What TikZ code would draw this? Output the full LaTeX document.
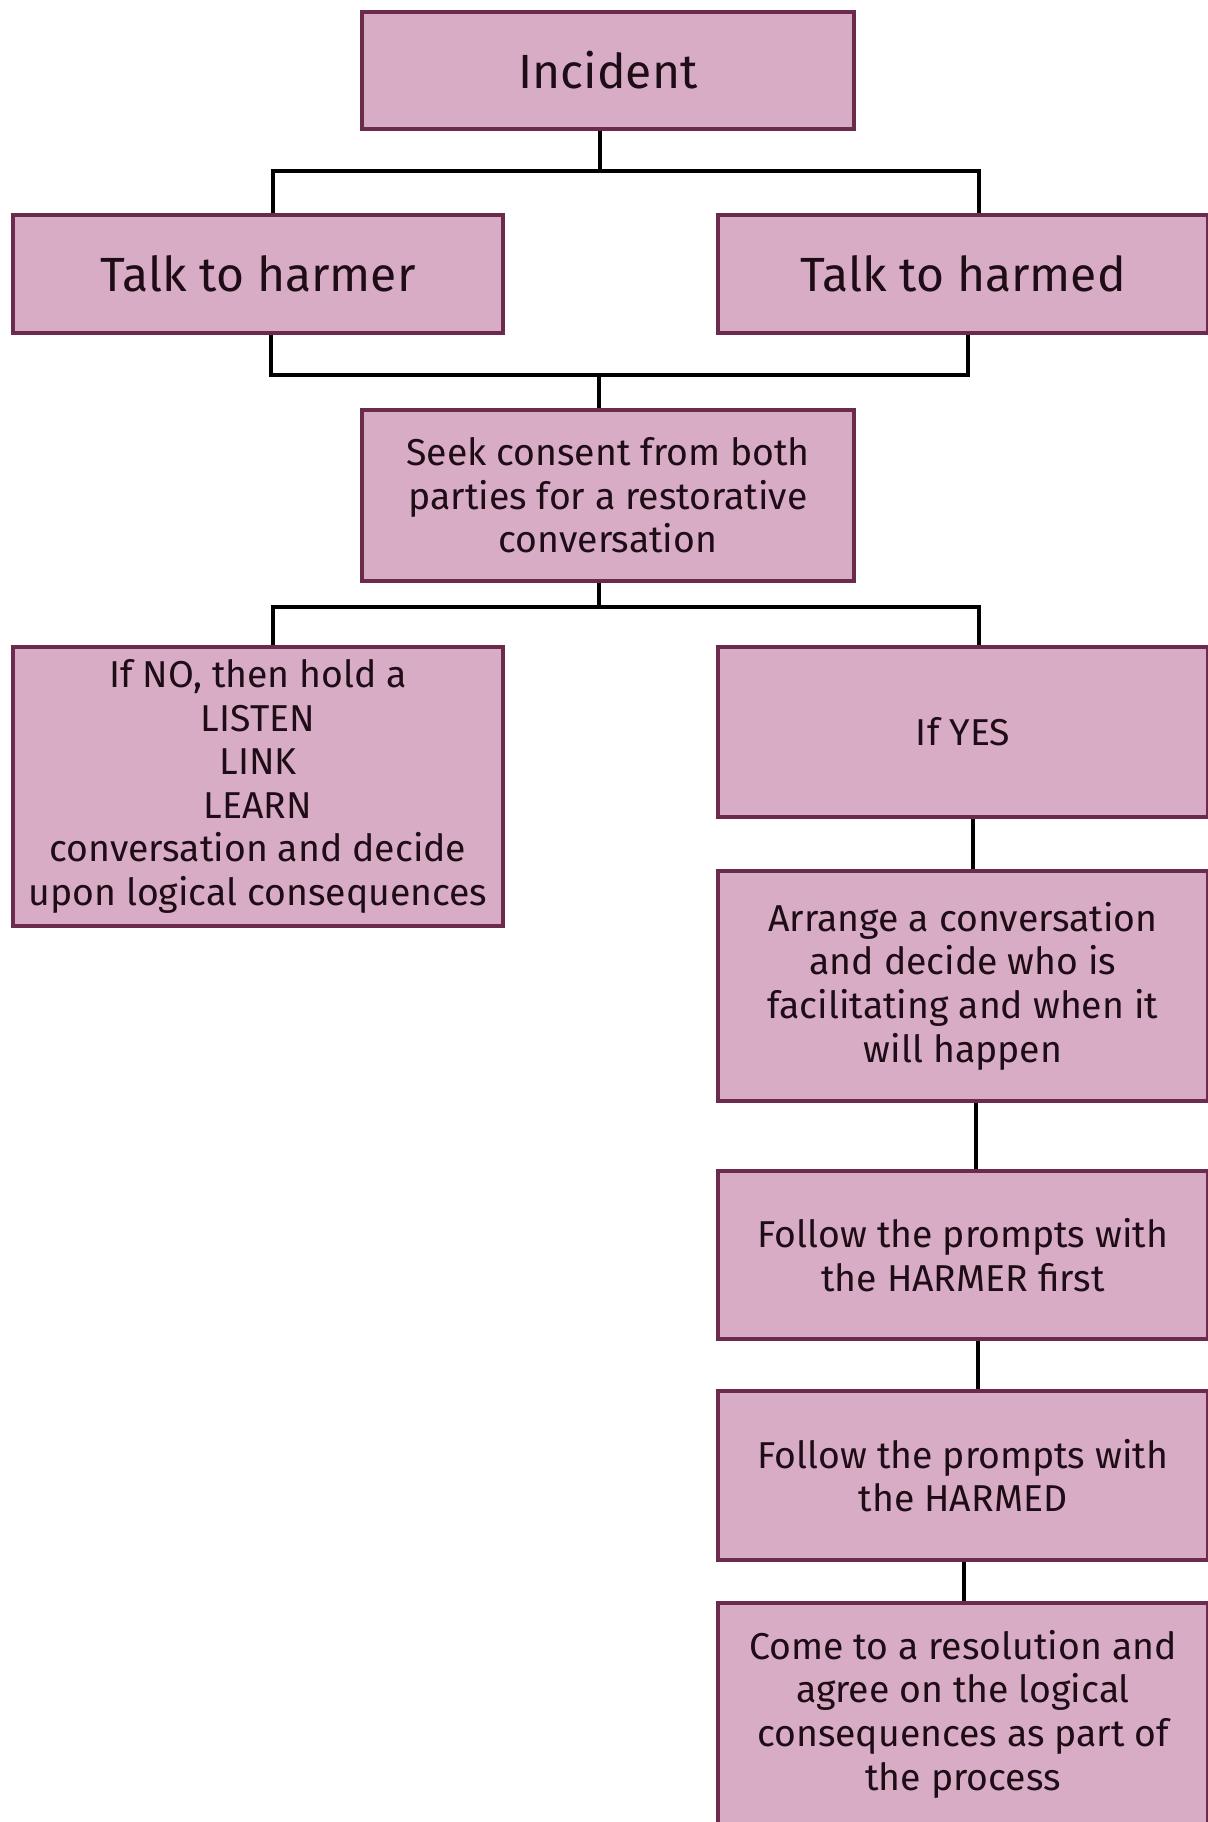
\documentclass[tikz,border=0pt]{standalone}
\usepackage{fontspec}
\setmainfont{Fira Sans}
\usetikzlibrary{positioning}
\definecolor{boxfill}{RGB}{216,172,197}
\definecolor{boxedge}{RGB}{108,42,76}
\definecolor{ink}{RGB}{30,12,22}

\begin{document}
\begin{tikzpicture}[x=0.5pt, y=-0.5pt,
    box/.style={draw=boxedge, line width=1.8pt, fill=boxfill, text=ink, align=center,
        inner sep=0pt, font=\fontsize{18.7}{21.8}\selectfont},
    bigbox/.style={box, font=\fontsize{24}{28}\selectfont},
    link/.style={line width=1.8pt, black}]
    \useasboundingbox (0,0) rectangle (1208,1822);
    % Top
    \node[bigbox, minimum width=246pt, minimum height=58.5pt] (incident) at (608,70.5) {Incident};
    % Talk to both sides
    \node[bigbox, minimum width=245pt, minimum height=59pt] (harmer) at (258,274) {Talk to harmer};
    \node[bigbox, minimum width=245pt, minimum height=59pt] (harmed) at (963,274) {Talk to harmed};
    % Consent
    \node[box, minimum width=246pt, minimum height=85.5pt] (seek) at (608,495.5)
        {Seek consent from both\\parties for a restorative\\conversation};
    % No branch
    \node[box, minimum width=245pt, minimum height=139.5pt] (ifno) at (258,786.5)
        {If NO, then hold a\\LISTEN\\LINK\\LEARN\\conversation and decide\\upon logical consequences};
    % Yes branch
    \node[box, minimum width=245pt, minimum height=85pt] (ifyes) at (963,732) {If YES};
    \node[box, minimum width=245pt, minimum height=115pt] (arrange) at (963,986)
        {Arrange a conversation\\and decide who is\\facilitating and when it\\will happen};
    \node[box, minimum width=245pt, minimum height=84pt] (promptharmer) at (963,1255)
        {Follow the prompts with\\the HARMER first};
    \node[box, minimum width=245pt, minimum height=84.5pt] (promptharmed) at (963,1475.5)
        {Follow the prompts with\\the HARMED};
    \node[box, minimum width=245pt, minimum height=111pt] (resolution) at (963,1714)
        {Come to a resolution and\\agree on the logical\\consequences as part of\\the process};

    % Connectors
    \coordinate (fork1) at (600,171);
    \coordinate (merge) at (599,375);
    \coordinate (fork2) at (599,607);
    \draw[link] ([xshift=-4pt]incident.south) -- (fork1);
    \draw[link] ([xshift=7.5pt]harmer.north) |- (fork1) -| ([xshift=8pt]harmed.north);
    \draw[link] ([xshift=6.5pt]harmer.south) |- (merge) -| ([xshift=-4.5pt]seek.north);
    \draw[link] ([xshift=2.5pt]harmed.south) |- (merge);
    \draw[link] ([xshift=-4.5pt]seek.south) -- (fork2);
    \draw[link] ([xshift=7.5pt]ifno.north) |- (fork2) -| ([xshift=8pt]ifyes.north);
    \draw[link] ([xshift=5pt]ifyes.south) -- ([xshift=5pt]arrange.north);
    \draw[link] ([xshift=6.5pt]arrange.south) -- ([xshift=6.5pt]promptharmer.north);
    \draw[link] ([xshift=7.5pt]promptharmer.south) -- ([xshift=7.5pt]promptharmed.north);
    \draw[link] ([xshift=0.5pt]promptharmed.south) -- ([xshift=0.5pt]resolution.north);
\end{tikzpicture}
\end{document}
